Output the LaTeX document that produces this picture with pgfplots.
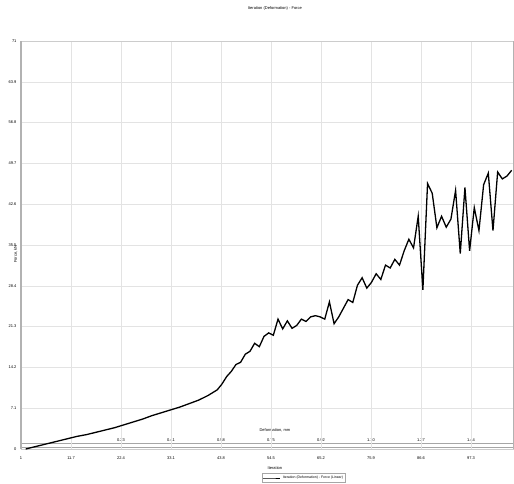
\documentclass[border=0pt]{standalone}
\usepackage{fontspec}
\setmainfont{Liberation Sans}
\usepackage{pgfplots}
\pgfplotsset{compat=1.18}
\begin{document}
\begin{tikzpicture}
\pgfplotsset{
  every axis/.append style={
    font=\fontsize{4}{5}\selectfont,
    /pgf/number format/assume math mode=true,
  },
}
% secondary axis: deformation, drawn as the double line near the bottom
\begin{axis}[
    at={(0,2pt)},
    scale only axis,
    width=493pt, height=3.2pt,
    xmin=1, xmax=106.5, ymin=0, ymax=1,
    axis x line=box, axis y line=none,
    x axis line style={draw=gray!70, line width=0.9pt},
    xtick={22.4,33.1,43.8,54.5,65.2,75.9,86.6,97.3},
    xticklabels={0.23,0.41,0.58,0.75,0.92,1.10,1.27,1.44},
    xticklabel pos=top,
    xticklabel style={yshift=-1pt},
    major tick length=0pt,
    xlabel={Deformation, mm},
    xlabel style={at={(0.515,1)}, anchor=south, yshift=8pt},
  ]
\end{axis}
\begin{axis}[
    scale only axis,
    width=493pt, height=408pt,
    xmin=1, xmax=106.5, ymin=0, ymax=71,
    xtick={1,11.7,22.4,33.1,43.8,54.5,65.2,75.9,86.6,97.3},
    xticklabels={1,11.7,22.4,33.1,43.8,54.5,65.2,75.9,86.6,97.3},
    ytick={0,7.1,14.2,21.3,28.4,35.5,42.6,49.7,56.8,63.9,71},
    yticklabels={0,7.1,14.2,21.3,28.4,35.5,42.6,49.7,56.8,63.9,71},
    major tick length=0pt,
    xticklabel style={yshift=-4pt},
    yticklabel style={xshift=-1pt},
    grid=major,
    major grid style={draw=gray!22, line width=0.4pt},
    axis line style={draw=gray!40, line width=0.5pt},
    separate axis lines,
    y axis line style={draw=gray!60, line width=1.2pt},
    title={Iteration (Deformation) - Force},
    title style={at={(0.515,1)}, anchor=south, yshift=21pt},
    xlabel={Iteration},
    xlabel style={at={(0.515,0)}, anchor=north, yshift=-14pt},
    ylabel={Force, kN},
    ylabel style={at={(0,0.5)}, anchor=south, xshift=-9pt},
    legend style={at={(0.574,0)}, anchor=center, yshift=-29pt,
      draw=gray!70, line width=0.4pt, inner sep=0.6pt,
      font=\fontsize{3.5}{4}\selectfont},
    legend cell align=left,
    legend image post style={line width=0.9pt},
  ]
\addplot[black, line width=1.3pt] coordinates {
  (2,0) (3,0.2) (5,0.6) (7,1.0) (9,1.4) (11,1.8) (13,2.2) (15,2.5)
  (17,2.9) (19,3.3) (21,3.7) (23,4.2) (25,4.7) (27,5.2) (29,5.8)
  (31,6.3) (33,6.8) (35,7.3) (37,7.9) (39,8.5) (41,9.3) (43,10.3)
  (44,11.3) (45,12.6) (46,13.5) (47,14.7) (48,15.1) (49,16.5) (50,17.0)
  (51,18.4) (52,17.8) (53,19.6) (54,20.2) (55,19.8) (56,22.6) (57,20.9)
  (58,22.3) (59,21.0) (60,21.5) (61,22.6) (62,22.2) (63,23.0) (64,23.2)
  (65,23.0) (66,22.6) (67,25.6) (68,21.8) (69,23.0) (70,24.5) (71,26.0)
  (72,25.5) (73,28.5) (74,29.8) (75,28.0) (76,29.0) (77,30.5) (78,29.5)
  (79,32.0) (80,31.5) (81,33.0) (82,32.0) (83,34.5) (84,36.5) (85,35.0)
  (86,40.5) (87,27.7) (88,46.2) (89,44.5) (90,38.5) (91,40.5) (92,38.6)
  (93,40.0) (94,45.0) (95,34.0) (96,45.5) (97,34.5) (98,42.0) (99,38.0)
  (100,46.0) (101,48.0) (102,38.0) (103,48.2) (104,47.0) (105,47.5) (106,48.5)
};
\legend{Iteration (Deformation) - Force (Linear)}
\end{axis}
\pgfresetboundingbox
\path (-21pt,-34pt) rectangle (493pt,449pt);
\end{tikzpicture}
\end{document}
